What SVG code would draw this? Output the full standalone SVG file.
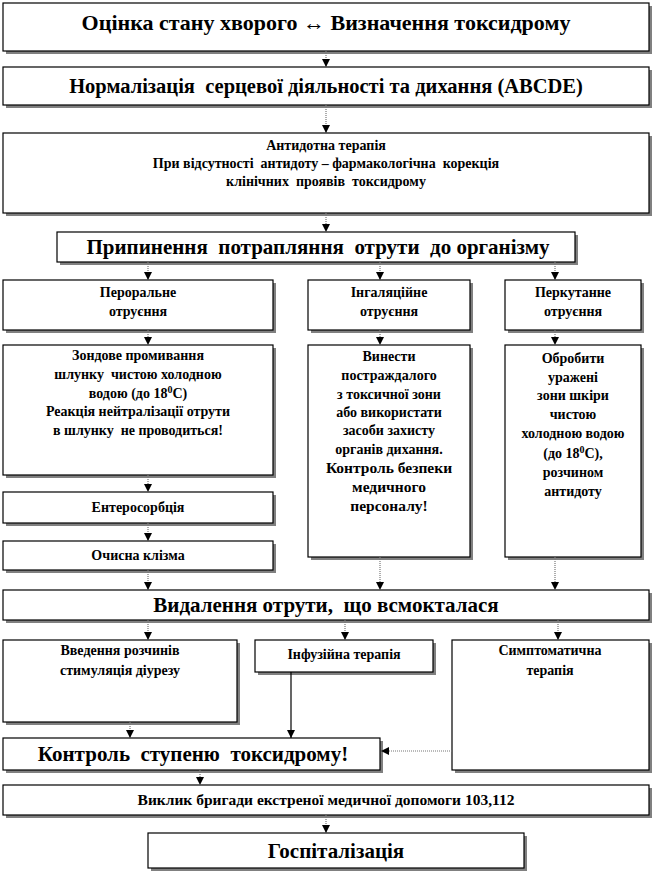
<svg xmlns="http://www.w3.org/2000/svg" width="653" height="873" viewBox="0 0 653 873">
<style>
.b{fill:#fff;stroke:#000;stroke-width:1.2}
.sh{fill:#808080}
text{font-family:"Liberation Serif","Times New Roman",serif;font-weight:bold;fill:#000;text-anchor:middle;white-space:pre}
.s{font-size:14px}
.v{font-size:15.5px}
.m{font-size:15.5px}
.l{font-size:20.5px}
.x{font-size:21px}
.t{font-size:22px}
.c{stroke:#777;stroke-width:1.2;stroke-dasharray:1 1;fill:none}
.cs{stroke:#000;stroke-width:1.2;fill:none}
</style>
<defs>
<marker id="a" markerUnits="userSpaceOnUse" markerWidth="8" markerHeight="9" refX="8" refY="4.5" orient="auto">
<path d="M0,0.5 L8,4.5 L0,8.5 z" fill="#000"/>
</marker>
</defs>
<rect width="653" height="873" fill="#fff"/>
<g id="n1"><rect class="sh" x="6" y="6" width="646" height="48"/><rect class="b" x="3" y="3" width="646" height="48"/><text class="t" x="326" y="30">Оцінка стану хворого ↔ Визначення токсидрому</text></g>
<g id="n2"><rect class="sh" x="6" y="70" width="646" height="38"/><rect class="b" x="3" y="67" width="646" height="38"/><text class="l" x="326" y="93">Нормалізація  серцевої діяльності та дихання (ABCDE)</text></g>
<g id="n3"><rect class="sh" x="6" y="136" width="646" height="80"/><rect class="b" x="3" y="133" width="646" height="80"/><text class="s" x="326" y="150">Антидотна терапія</text><text class="s" x="326" y="168">При відсутності  антидоту – фармакологічна  корекція</text><text class="s" x="326" y="186">клінічних  проявів  токсидрому</text></g>
<g id="n4"><rect class="sh" x="60" y="235" width="518" height="30"/><rect class="b" x="57" y="232" width="518" height="30"/><text class="x" x="318" y="254">Припинення  потрапляння  отрути  до організму</text></g>
<g id="n5"><rect class="sh" x="6" y="283" width="270" height="50"/><rect class="b" x="3" y="280" width="270" height="50"/><text class="s" x="138" y="297">Пероральне</text><text class="s" x="138" y="316">отруєння</text></g>
<g id="n6"><rect class="sh" x="311" y="283" width="162" height="50"/><rect class="b" x="308" y="280" width="162" height="50"/><text class="s" x="389" y="297">Інгаляційне</text><text class="s" x="389" y="316">отруєння</text></g>
<g id="n7"><rect class="sh" x="508" y="283" width="136" height="50"/><rect class="b" x="505" y="280" width="136" height="50"/><text class="s" x="573" y="297">Перкутанне</text><text class="s" x="573" y="316">отруєння</text></g>
<g id="n8"><rect class="sh" x="6" y="348" width="270" height="130"/><rect class="b" x="3" y="345" width="270" height="130"/><text class="s" x="138" y="360">Зондове промивання</text><text class="s" x="138" y="379">шлунку  чистою холодною</text><text class="s" x="138" y="398">водою (до 18<tspan font-size="10" dy="-5">0</tspan><tspan dy="5">С)</tspan></text><text class="s" x="138" y="416">Реакція нейтралізації отрути</text><text class="s" x="138" y="435">в шлунку  не проводиться!</text></g>
<g id="n9"><rect class="sh" x="311" y="348" width="162" height="212"/><rect class="b" x="308" y="345" width="162" height="212"/><text class="s" x="389" y="361">Винести</text><text class="s" x="389" y="380">постраждалого</text><text class="s" x="389" y="399">з токсичної зони</text><text class="s" x="389" y="417">або використати</text><text class="s" x="389" y="435">засоби захисту</text><text class="s" x="389" y="454">органів дихання.</text><text class="m" x="389" y="473">Контроль безпеки</text><text class="m" x="389" y="492">медичного</text><text class="m" x="389" y="511">персоналу!</text></g>
<g id="n10"><rect class="sh" x="508" y="348" width="136" height="212"/><rect class="b" x="505" y="345" width="136" height="212"/><text class="s" x="573" y="363">Обробити</text><text class="s" x="573" y="382">уражені</text><text class="s" x="573" y="400">зони шкіри</text><text class="s" x="573" y="419">чистою</text><text class="s" x="573" y="438">холодною водою</text><text class="s" x="573" y="458">(до 18<tspan font-size="10" dy="-5">0</tspan><tspan dy="5">С),</tspan></text><text class="s" x="573" y="477">розчином</text><text class="s" x="573" y="496">антидоту</text></g>
<g id="n11"><rect class="sh" x="6" y="495" width="270" height="31"/><rect class="b" x="3" y="492" width="270" height="31"/><text class="s" x="138" y="512">Ентеросорбція</text></g>
<g id="n12"><rect class="sh" x="6" y="544" width="270" height="29"/><rect class="b" x="3" y="541" width="270" height="29"/><text class="s" x="138" y="560">Очисна клізма</text></g>
<g id="n13"><rect class="sh" x="6" y="593" width="646" height="30"/><rect class="b" x="3" y="590" width="646" height="30"/><text class="x" x="326" y="612">Видалення отрути,  що всмокталася</text></g>
<g id="n14"><rect class="sh" x="6" y="643" width="234" height="82"/><rect class="b" x="3" y="640" width="234" height="82"/><text class="s" x="120" y="655">Введення розчинів</text><text class="s" x="120" y="675">стимуляція діурезу</text></g>
<g id="n15"><rect class="sh" x="258" y="643" width="178" height="32"/><rect class="b" x="255" y="640" width="178" height="32"/><text class="s" x="344" y="659">Інфузійна терапія</text></g>
<g id="n16"><rect class="sh" x="455" y="643" width="197" height="130"/><rect class="b" x="452" y="640" width="197" height="130"/><text class="s" x="550" y="655">Симптоматична</text><text class="s" x="550" y="675">терапія</text></g>
<g id="n17"><rect class="sh" x="6" y="741" width="377" height="32"/><rect class="b" x="3" y="738" width="377" height="32"/><text class="x" x="193" y="761">Контроль  ступеню  токсидрому!</text></g>
<g id="n18"><rect class="sh" x="6" y="788" width="646" height="30"/><rect class="b" x="3" y="785" width="646" height="30"/><text class="v" x="326" y="805">Виклик бригади екстреної медичної допомоги 103,112</text></g>
<g id="n19"><rect class="sh" x="151" y="836" width="376" height="35"/><rect class="b" x="148" y="833" width="376" height="35"/><text class="x" x="336" y="858">Госпіталізація</text></g>
<g id="connectors">
<line class="c" x1="326" y1="51" x2="326" y2="67" marker-end="url(#a)"/>
<line class="c" x1="326" y1="105" x2="326" y2="133" marker-end="url(#a)"/>
<line class="c" x1="326" y1="213" x2="326" y2="232" marker-end="url(#a)"/>
<line class="c" x1="148" y1="262" x2="148" y2="280" marker-end="url(#a)"/>
<line class="c" x1="380" y1="262" x2="380" y2="280" marker-end="url(#a)"/>
<line class="c" x1="555" y1="262" x2="555" y2="280" marker-end="url(#a)"/>
<line class="c" x1="148" y1="330" x2="148" y2="345" marker-end="url(#a)"/>
<line class="c" x1="380" y1="330" x2="380" y2="345" marker-end="url(#a)"/>
<line class="c" x1="555" y1="330" x2="555" y2="345" marker-end="url(#a)"/>
<line class="c" x1="148" y1="475" x2="148" y2="492" marker-end="url(#a)"/>
<line class="c" x1="148" y1="523" x2="148" y2="541" marker-end="url(#a)"/>
<line class="c" x1="148" y1="570" x2="148" y2="590" marker-end="url(#a)"/>
<line class="c" x1="380" y1="557" x2="380" y2="590" marker-end="url(#a)"/>
<line class="c" x1="555" y1="557" x2="555" y2="590" marker-end="url(#a)"/>
<line class="c" x1="148" y1="620" x2="148" y2="640" marker-end="url(#a)"/>
<line class="c" x1="345" y1="620" x2="345" y2="640" marker-end="url(#a)"/>
<line class="c" x1="558" y1="620" x2="558" y2="640" marker-end="url(#a)"/>
<line class="c" x1="130" y1="722" x2="130" y2="738" marker-end="url(#a)"/>
<line class="cs" x1="291" y1="672" x2="291" y2="738" marker-end="url(#a)"/>
<line class="c" x1="452" y1="751" x2="381" y2="751" marker-end="url(#a)"/>
<line class="c" x1="200" y1="770" x2="200" y2="785" marker-end="url(#a)"/>
<line class="c" x1="326" y1="815" x2="326" y2="833" marker-end="url(#a)"/>
</g>
</svg>
